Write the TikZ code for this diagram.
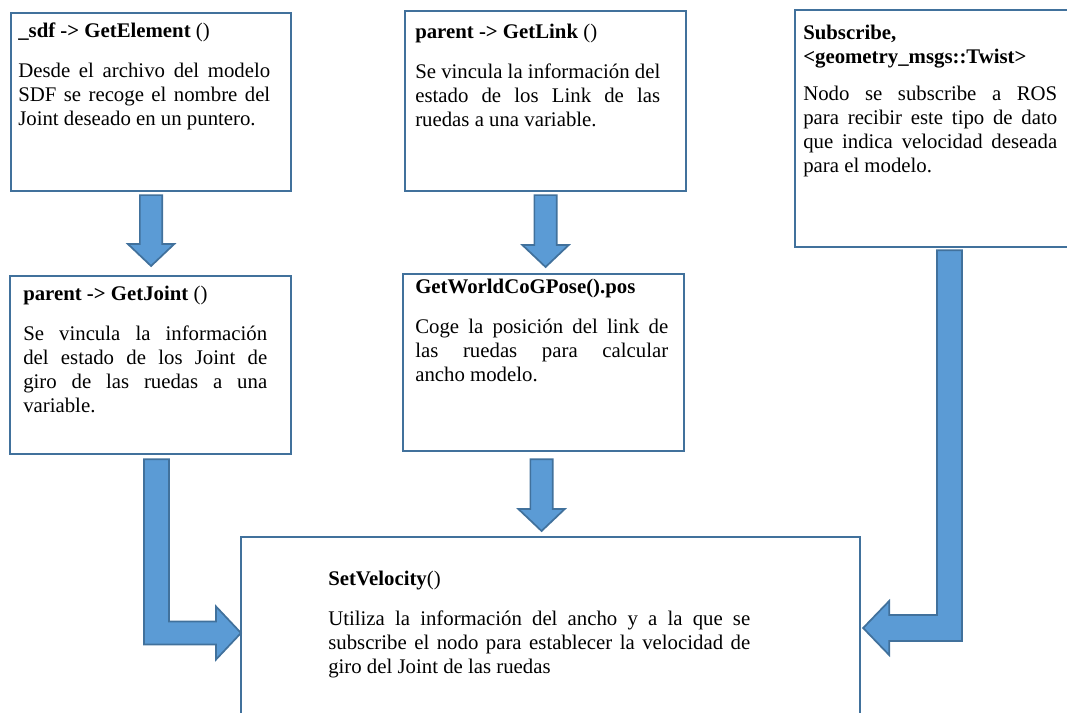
\documentclass[tikz,border=0pt]{standalone}
\usepackage{fontspec}
\setmainfont{Liberation Serif}
\usetikzlibrary{calc}
\definecolor{boxline}{HTML}{41719C}
\definecolor{arrfill}{HTML}{5B9BD5}
\definecolor{arrline}{HTML}{41719C}
\tikzset{
  box/.style={draw=boxline, line width=1.6pt, rectangle, anchor=north west, inner sep=0pt, fill=white},
  txt/.style={anchor=north west, inner sep=0pt, text width=#1, align=justify, font=\fontsize{15.6}{18}\selectfont},
  blk/.style={fill=arrfill, draw=arrline, line width=1.3pt, line join=miter},
}
\newcommand\blockdown[2]{%
  \path[blk] let \p1=(#1), \p2=(#2) in
  (\x1-8.4pt,\y1) -- (\x1+8.4pt,\y1) -- (\x1+8.4pt,\y2+16.5pt) -- (\x1+17.4pt,\y2+16.5pt)
  -- (\x1,\y2) -- (\x1-17.4pt,\y2+16.5pt) -- (\x1-8.4pt,\y2+16.5pt) -- cycle;}
\newcommand\ttl[1]{{\bfseries\strut #1}\par\vspace{12pt}}
\begin{document}
\begin{tikzpicture}[x=0.75pt,y=-0.75pt]
\useasboundingbox (0,0) rectangle (1067,713);
\clip (0,0) rectangle (1067,713);
% boxes
\node[box, minimum width=210pt, minimum height=133.5pt] (b1) at (10,12) {};
\node[box, minimum width=210.75pt, minimum height=135pt] (b2) at (404,10) {};
\node[box, minimum width=210.75pt, minimum height=177.75pt] (b3) at (794,9) {};
\node[box, minimum width=210.75pt, minimum height=133.5pt] (b4) at (9,275) {};
\node[box, minimum width=210.75pt, minimum height=132.75pt] (b5) at (402,273) {};
\node[box, minimum width=464.25pt, minimum height=141.75pt] (b6) at (240,536) {};
% texts
\node[txt=189pt] (t1) at (18,20.2) {\ttl{\_sdf -> GetElement \textmd{()}}Desde el archivo del modelo\linebreak SDF se recoge el nombre del\linebreak Joint deseado en un puntero.};
\node[txt=183.75pt] (t2) at (415,21.2) {\ttl{parent -> GetLink \textmd{()}}Se vincula la información del\linebreak estado de los Link de las\linebreak ruedas a una variable.};
\node[txt=190.5pt] (t3) at (803,22.2) {{\bfseries\strut Subscribe,\newline <geometry\_msgs::Twist>}\par\vspace{10pt}Nodo se subscribe a ROS\linebreak para recibir este tipo de dato\linebreak que indica velocidad deseada\linebreak para el modelo.};
\node[txt=183pt] (t4) at (23,283.2) {\ttl{parent -> GetJoint \textmd{()}}Se vincula la información\linebreak del estado de los Joint de\linebreak giro de las ruedas a una\linebreak variable.};
\node[txt=189.75pt] (t5) at (415,276.2) {\ttl{GetWorldCoGPose().pos}Coge la posición del link de\linebreak las ruedas para calcular\linebreak ancho modelo.};
\node[txt=316.5pt] (t6) at (328,568.2) {\ttl{SetVelocity\textmd{()}}Utiliza la información del ancho y a la que se\linebreak subscribe el nodo para establecer la velocidad de\linebreak giro del Joint de las ruedas};
% straight block arrows
\coordinate (a1s) at ($(b1.south)+(0,3)$);
\coordinate (a1e) at ($(b4.north)+(0,-9)$);
\blockdown{a1s}{a1e}
\coordinate (a2s) at ($(b2.south)+(0,3)$);
\coordinate (a2e) at ($(b5.north)+(0,-6)$);
\blockdown{a2s}{a2e}
\coordinate (a3s) at ($(b5.south)+(-2,7)$);
\coordinate (a3e) at ($(a3s |- b6.north)+(0,-5)$);
\blockdown{a3s}{a3e}
% bent arrow from b4 to b6
\coordinate (a4s) at ($(b4.south)+(6,4)$);
\coordinate (a4e) at ($(b6.north west)+(1,97)$);
\path[blk] let \p1=(a4s), \p2=(a4e) in
  (\x1-9.4pt,\y1) -- (\x1+9.4pt,\y1) -- (\x1+9.4pt,\y2+8.6pt) -- (\x2-18.75pt,\y2+8.6pt)
  -- (\x2-18.75pt,\y2+19.9pt) -- (\x2,\y2) -- (\x2-18.75pt,\y2-19.9pt) -- (\x2-18.75pt,\y2-8.6pt)
  -- (\x1-9.4pt,\y2-8.6pt) -- cycle;
% bent arrow from b3 to b6
\coordinate (a5s) at ($(b3.south)+(14,2)$);
\coordinate (a5e) at ($(b6.north east)+(2,92)$);
\path[blk] let \p1=(a5s), \p2=(a5e) in
  (\x1+9.4pt,\y1) -- (\x1-9.4pt,\y1) -- (\x1-9.4pt,\y2+9.75pt) -- (\x2+19.5pt,\y2+9.75pt)
  -- (\x2+19.5pt,\y2+20.25pt) -- (\x2,\y2) -- (\x2+19.5pt,\y2-20.25pt) -- (\x2+19.5pt,\y2-9.75pt)
  -- (\x1+9.4pt,\y2-9.75pt) -- cycle;
\end{tikzpicture}
\end{document}
